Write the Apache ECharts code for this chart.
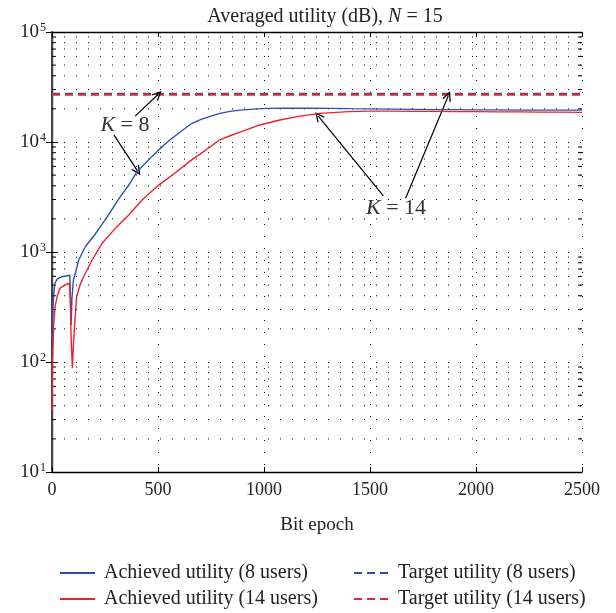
<!DOCTYPE html>
<html><head><meta charset="utf-8">
<script src="https://cdn.jsdelivr.net/npm/echarts@6/dist/echarts.min.js"></script>
<style>html,body{margin:0;padding:0;background:#fff}#c{width:616px;height:613px}</style>
</head><body><div id="c"></div>
<script>
// ---- data ----
const epochs8 = [0,5,10,14,25,45,65,84,87,90,94,101,110,126,157,200,236,275,314,360,401,440,472,519,560,597,630,660,698,745,792,840,887,950,1013,1100,1200,1311,1400,1500,1600,1700,1800,1900,2000,2100,2200,2300,2400,2500];
const util8   = [158,330,450,520,570,595,605,615,600,218,380,556,640,845,1117,1420,1780,2300,3020,4000,5370,6400,7400,9060,10600,12000,13400,14800,15900,17100,18200,19000,19500,19900,20200,20300,20300,20200,20100,20000,19900,19800,19700,19700,19600,19600,19500,19500,19500,19500];
const epochs14 = [0,3,8,14,25,38,60,82,86,90,96,100,105,116,132,149,190,236,299,362,425,503,582,660,698,745,792,840,887,935,981,1075,1170,1264,1400,1500,1600,1700,1800,1900,2000,2100,2200,2300,2400,2500];
const util14   = [36,110,220,316,400,470,500,520,380,170,88,130,195,390,500,596,850,1200,1640,2170,2970,4060,5250,6920,7760,9000,10470,11400,12300,13300,14290,15850,17180,18200,18900,19100,19100,19000,19000,18900,18900,18800,18800,18700,18700,18600];
const target8 = 27400;
const target14 = 26900;
const yMin = 10, yMax = 100000;
const minorTicks = [20,30,40,50,60,70,80,90,200,300,400,500,600,700,800,900,2000,3000,4000,5000,6000,7000,8000,9000,20000,30000,40000,50000,60000,70000,80000,90000];
const seriesNames = ['Achieved utility (8 users)','Achieved utility (14 users)','Target utility (8 users)','Target utility (14 users)'];
// annotations
const annK8 = {text:'K', rest:' = 8', at:[344,14300], arrows:[[[392,17200],[500,27000]],[[292,11600],[404,5440]]]};
const annK14 = {text:'K', rest:' = 14', at:[1623,2510], arrows:[[[1563,3230],[1256,17200]],[[1668,3080],[1869,26200]]]};

const FONT = "'Liberation Serif','DejaVu Serif',serif";
const BLUE = '#2f4fb0', RED = '#f0202a';
const XMIN = 0, XMAX = 2500;

const chart = echarts.init(document.getElementById('c'), null, {renderer:'canvas'});
function zip(a,b){return a.map((v,i)=>[v,b[i]]);}
const chevron = 'path://M0,10 L5,0 L10,10 L8.8,10.8 L5,3.2 L1.2,10.8 Z';
function arrowData(ann){ return ann.arrows.map(a=>[{coord:a[0]},{coord:a[1]}]); }

function legendAt(left, names){
  return {orient:'vertical',left:left,top:558,height:60,itemWidth:35,itemHeight:12,itemGap:6,
    data:names,
    itemStyle:{opacity:0,borderWidth:0},
    textStyle:{fontFamily:FONT,fontSize:20,lineHeight:20,color:'#222',padding:[0,0,0,4]}};
}

const option = {
  animation:false,
  backgroundColor:'#fff',
  textStyle:{fontFamily:FONT},
  title:{
    text:'{a|Averaged utility (dB), }{i|N}{a| = 15}',
    left:320, top:2, textAlign:'center',
    textStyle:{fontWeight:'normal',rich:{a:{fontFamily:FONT,fontSize:20,color:'#222'},i:{fontFamily:FONT,fontSize:20,fontStyle:'italic',color:'#222'}}}
  },
  grid:{left:52,right:34,top:32,bottom:141,containLabel:false},
  legend:[
    legendAt(54,[seriesNames[0],seriesNames[1]]),
    legendAt(348,[seriesNames[2],seriesNames[3]])
  ],
  xAxis:[
    {type:'value',min:XMIN,max:XMAX,interval:500,position:'bottom',
     name:'Bit epoch',nameLocation:'middle',nameGap:44,
     nameTextStyle:{fontFamily:FONT,fontSize:19,color:'#222'},
     axisLine:{lineStyle:{color:'#000',width:1.3}},
     axisTick:{inside:true,length:5,lineStyle:{color:'#000'}},
     axisLabel:{fontFamily:FONT,fontSize:18,color:'#222',margin:9,formatter:v=>String(v)},
     splitLine:{show:true,lineStyle:{color:'#000',width:1,type:[1,11]}}},
    {type:'value',min:XMIN,max:XMAX,interval:500,position:'top',
     axisLine:{lineStyle:{color:'#000',width:1.3}},
     axisTick:{inside:true,length:5,lineStyle:{color:'#000'}},
     axisLabel:{show:false},splitLine:{show:false}}
  ],
  yAxis:[
    {type:'log',min:yMin,max:yMax,logBase:10,position:'left',
     axisLine:{lineStyle:{color:'#000',width:1.3}},
     axisTick:{inside:true,length:6,lineStyle:{color:'#000'}},
     axisLabel:{margin:6,formatter:function(v){const e=Math.round(Math.log10(v));return '{b|10}{s|'+e+'}';},
       rich:{b:{fontFamily:FONT,fontSize:19,color:'#222'},s:{fontFamily:FONT,fontSize:12,color:'#222',verticalAlign:'top',padding:[0,0,9,1]}}},
     splitLine:{show:true,lineStyle:{color:'#000',width:1,type:[1,11]}}},
    {type:'log',min:yMin,max:yMax,logBase:10,position:'right',
     axisLine:{lineStyle:{color:'#444',width:2}},
     axisTick:{inside:true,length:6,lineStyle:{color:'#000'}},
     axisLabel:{show:false},splitLine:{show:false}}
  ],
  series:[
    {type:'custom',name:'minorGrid',silent:true,z:1,
     data:minorTicks.map(v=>[XMIN,v]),encode:{x:0,y:1},
     renderItem:function(params,api){
       const v=api.value(1);
       const p0=api.coord([XMIN,v]), p1=api.coord([XMAX,v]);
       const st={stroke:'#000',lineWidth:1};
       return {type:'group',children:[
         {type:'line',shape:{x1:p0[0],y1:p0[1],x2:p1[0],y2:p1[1]},style:{stroke:'#000',lineWidth:1,lineDash:[1,11]}},
         {type:'line',shape:{x1:p0[0],y1:p0[1],x2:p0[0]+4,y2:p0[1]},style:st},
         {type:'line',shape:{x1:p1[0]-4,y1:p1[1],x2:p1[0],y2:p1[1]},style:st}
       ]};
     }},
    {type:'line',name:seriesNames[2],data:[[XMIN,target8],[XMAX,target8]],symbol:'none',z:3,
     lineStyle:{color:BLUE,width:2,type:[8,5]},itemStyle:{color:BLUE}},
    {type:'line',name:seriesNames[3],data:[[XMIN,target14],[XMAX,target14]],symbol:'none',z:4,
     lineStyle:{color:RED,width:2,type:[8,5]},itemStyle:{color:RED}},
    {type:'line',name:seriesNames[0],data:zip(epochs8,util8),symbol:'none',z:5,
     lineStyle:{color:BLUE,width:1.4},itemStyle:{color:BLUE}},
    {type:'line',name:seriesNames[1],data:zip(epochs14,util14),symbol:'none',z:6,
     lineStyle:{color:RED,width:1.4},itemStyle:{color:RED},
     markLine:{silent:true,symbol:['none',chevron],symbolSize:[9,10],
       lineStyle:{color:'#000',width:1.2,type:'solid'},label:{show:false},
       data:arrowData(annK8).concat(arrowData(annK14))},
     markPoint:{silent:true,symbol:'rect',symbolSize:1,itemStyle:{color:'rgba(0,0,0,0)'},
       label:{show:true,position:'inside',formatter:function(p){return p.data.lbl;},
         rich:{i:{fontFamily:FONT,fontSize:22,fontStyle:'italic',color:'#333'},r:{fontFamily:FONT,fontSize:22,color:'#333'}}},
       data:[
         {coord:annK8.at,lbl:'{i|'+annK8.text+'}{r|'+annK8.rest+'}'},
         {coord:annK14.at,lbl:'{i|'+annK14.text+'}{r|'+annK14.rest+'}'}
       ]}}
  ]
};
chart.setOption(option);
</script></body></html>
